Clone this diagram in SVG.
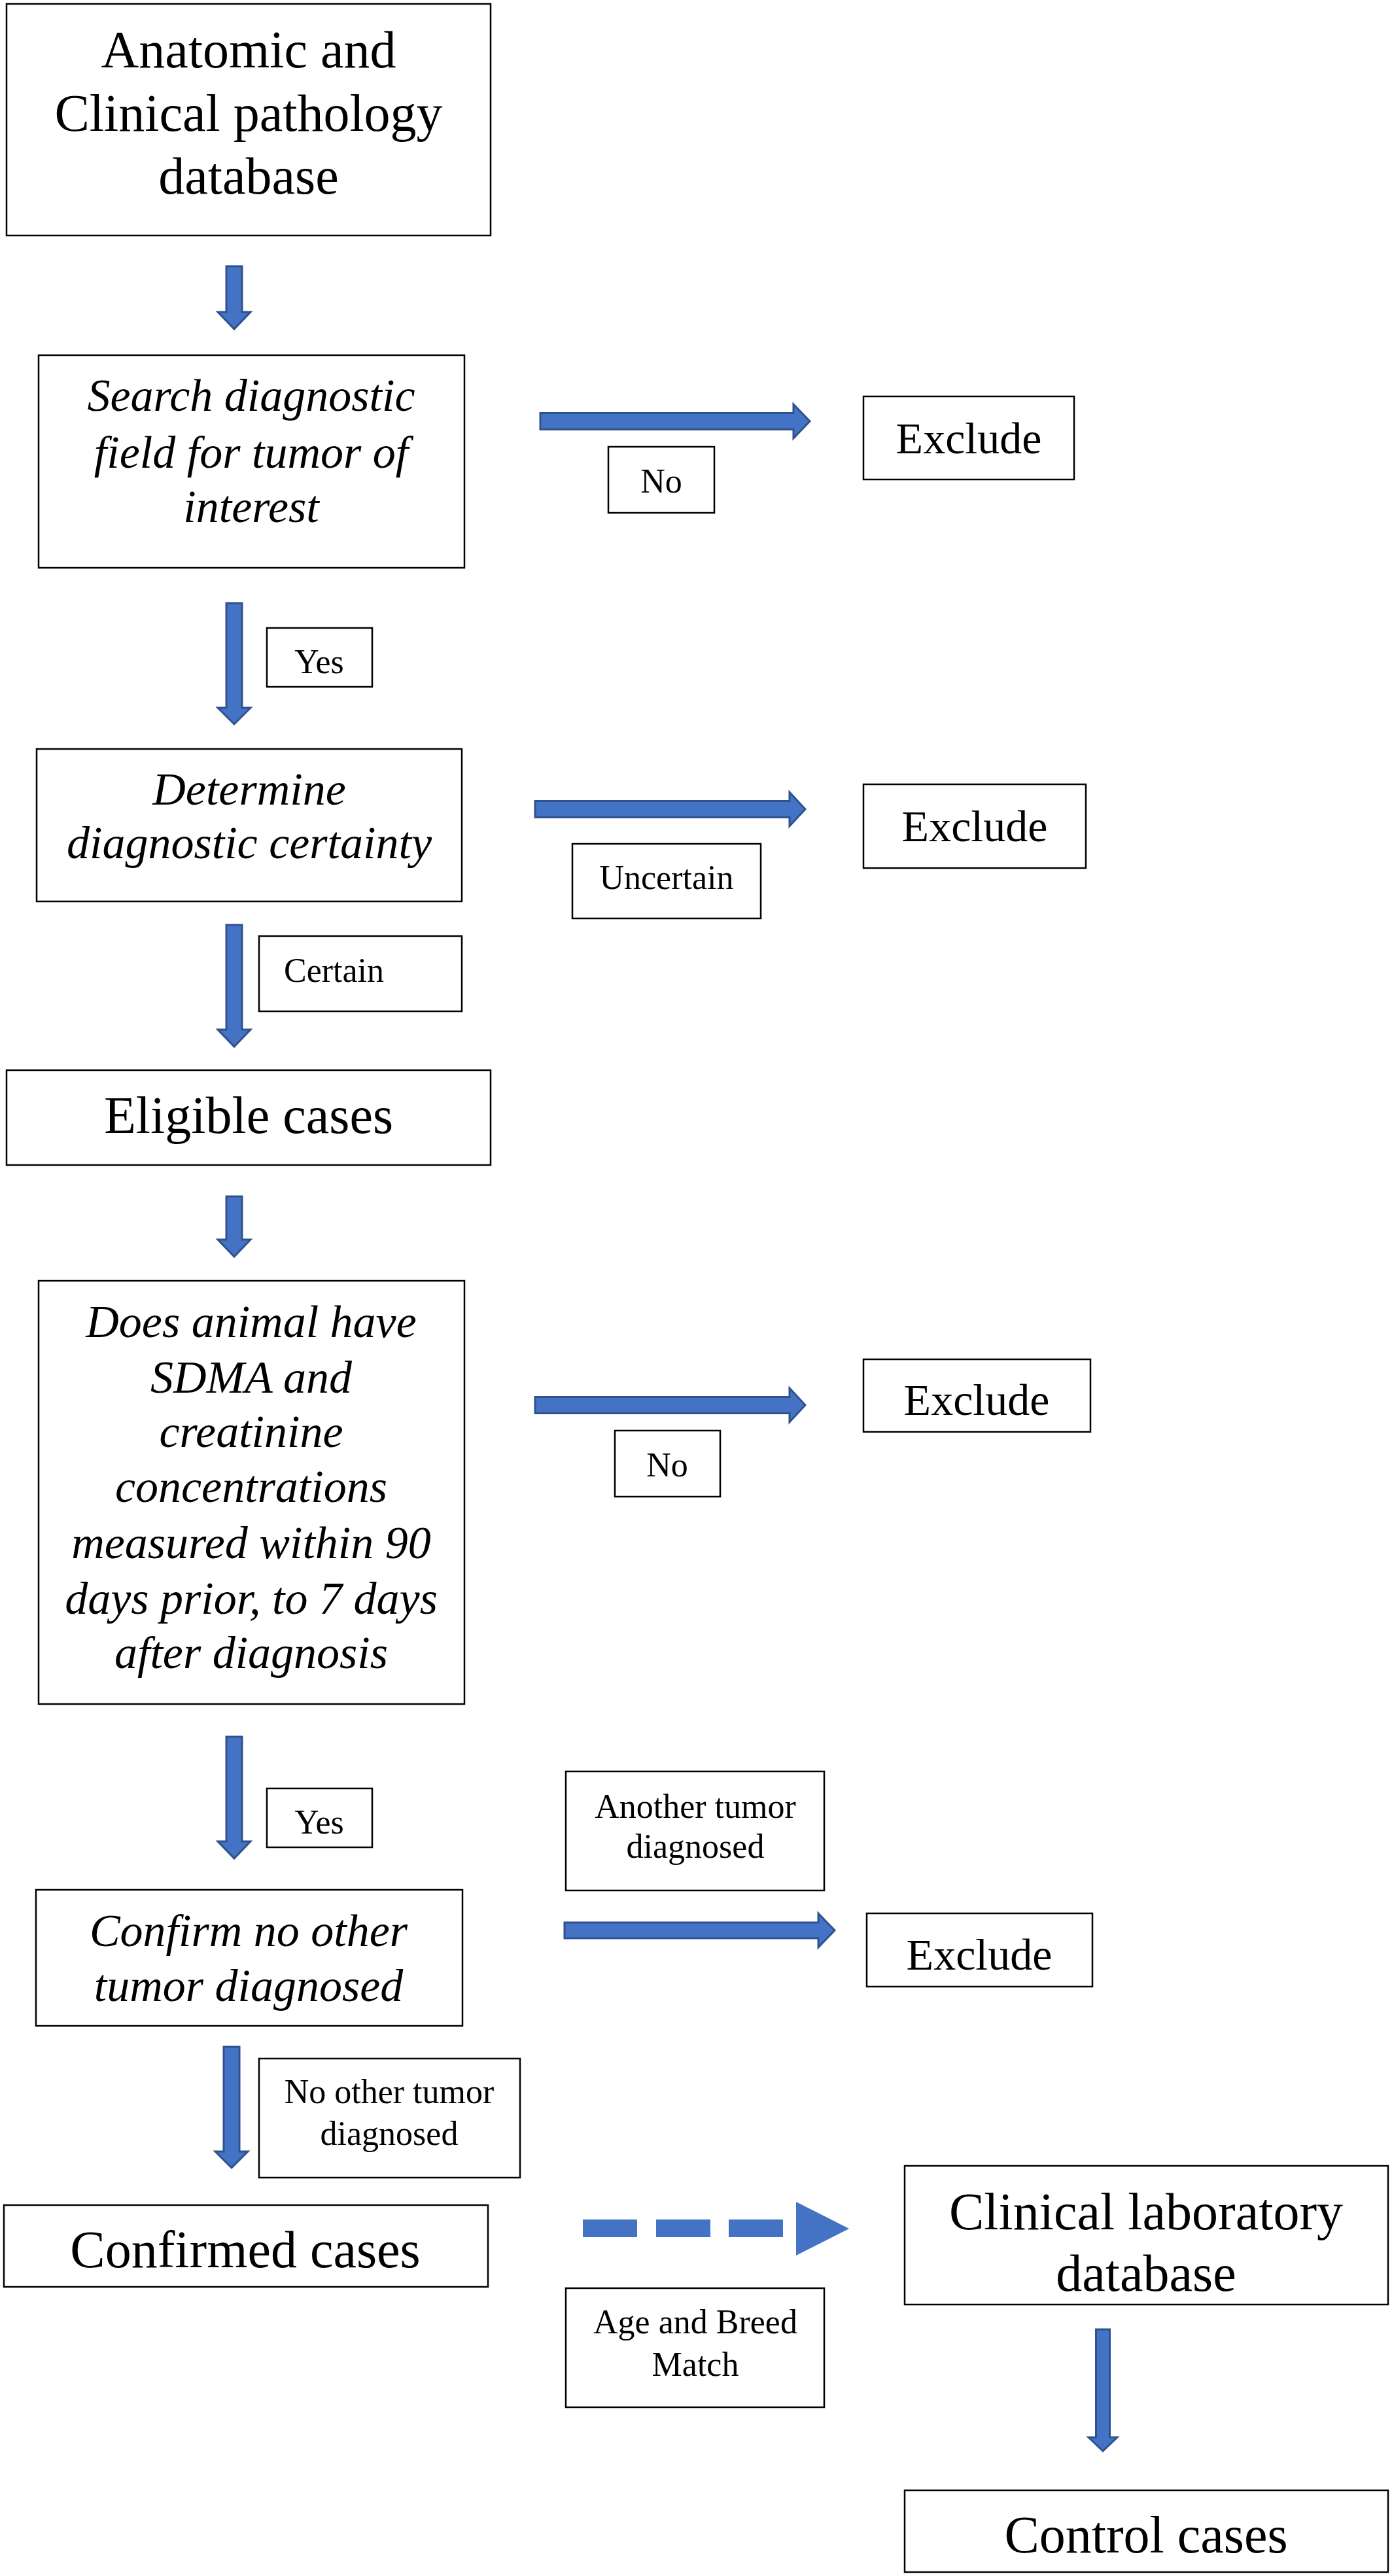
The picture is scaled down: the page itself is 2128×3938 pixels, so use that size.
<svg xmlns="http://www.w3.org/2000/svg" width="2128" height="3938" viewBox="0 0 2128 3938">
<style>
.box{fill:#fff;stroke:#000;stroke-width:2.5}
.t{font-family:"Liberation Serif","Times New Roman",serif;fill:#000;text-anchor:middle}
.big{font-size:80px}
.it{font-size:70px;font-style:italic}
.ex{font-size:68px}
.lb{font-size:52px}
.arr{fill:#4472C4;stroke:#2F528F;stroke-width:3;stroke-linejoin:miter}
.dash{fill:#4472C4}
</style>
<rect width="2128" height="3938" fill="#fff"/>
<g id="connectors">
<path class="arr" d="M346,407 H370 V477 H383 L358,503 L333,477 H346 Z"/>
<path class="arr" d="M346,922 H370 V1082 H383 L358,1107 L333,1082 H346 Z"/>
<path class="arr" d="M346,1414 H370 V1574 H383 L358,1600 L333,1574 H346 Z"/>
<path class="arr" d="M346,1829 H370 V1895 H383 L358,1921 L333,1895 H346 Z"/>
<path class="arr" d="M346,2655 H370 V2815 H383 L358,2841 L333,2815 H346 Z"/>
<path class="arr" d="M342,3129 H366 V3289 H379 L354,3314 L329,3289 H342 Z"/>
<path class="arr" d="M1675.5,3561 H1696.5 V3726 H1708 L1686,3747 L1664,3726 H1675.5 Z"/>
<path class="arr" d="M826,631.5 H1213 V618 L1238,644 L1213,670 V656.5 H826 Z"/>
<path class="arr" d="M818,1224.5 H1207 V1211 L1231,1237 L1207,1263 V1249.5 H818 Z"/>
<path class="arr" d="M818,2135.5 H1207 V2122 L1231,2148 L1207,2174 V2160.5 H818 Z"/>
<path class="arr" d="M863,2939 H1251 V2925 L1276,2951 L1251,2977 V2963 H863 Z"/>
<g id="dashed-arrow">
<rect class="dash" x="891" y="3393" width="83" height="27"/>
<rect class="dash" x="1003" y="3393" width="83" height="27"/>
<rect class="dash" x="1114" y="3393" width="83" height="27"/>
<path class="dash" d="M1217,3366 L1298,3407 L1217,3448 Z"/>
</g>
</g>
<g id="anatomic">
<rect class="box" x="10" y="6" width="740" height="354"/>
<text class="t big" x="380" y="103">Anatomic and</text>
<text class="t big" x="380" y="200">Clinical pathology</text>
<text class="t big" x="380" y="296">database</text>
</g>
<g id="search">
<rect class="box" x="59" y="543" width="651" height="325"/>
<text class="t it" x="384" y="628">Search diagnostic</text>
<text class="t it" x="384" y="715">field for tumor of</text>
<text class="t it" x="384" y="798">interest</text>
</g>
<g id="label-no1">
<rect class="box" x="930" y="683" width="162" height="101"/>
<text class="t lb" x="1011" y="753">No</text>
</g>
<g id="exclude1">
<rect class="box" x="1320" y="606" width="322" height="127"/>
<text class="t ex" x="1481" y="693">Exclude</text>
</g>
<g id="label-yes1">
<rect class="box" x="408" y="960" width="161" height="90"/>
<text class="t lb" x="488" y="1029">Yes</text>
</g>
<g id="certainty">
<rect class="box" x="56" y="1145" width="650" height="233"/>
<text class="t it" x="381" y="1230">Determine</text>
<text class="t it" x="381" y="1312">diagnostic certainty</text>
</g>
<g id="label-uncertain">
<rect class="box" x="875" y="1290" width="288" height="114"/>
<text class="t lb" x="1019" y="1359">Uncertain</text>
</g>
<g id="exclude2">
<rect class="box" x="1320" y="1199" width="340" height="128"/>
<text class="t ex" x="1490" y="1286">Exclude</text>
</g>
<g id="label-certain">
<rect class="box" x="396" y="1431" width="310" height="115"/>
<text class="t lb" x="434" y="1501" text-anchor="start" style="text-anchor:start">Certain</text>
</g>
<g id="eligible">
<rect class="box" x="10" y="1636" width="740" height="145"/>
<text class="t big" x="380" y="1732">Eligible cases</text>
</g>
<g id="sdma">
<rect class="box" x="59" y="1958" width="651" height="647"/>
<text class="t it" x="384" y="2044">Does animal have</text>
<text class="t it" x="384" y="2129">SDMA and</text>
<text class="t it" x="384" y="2212">creatinine</text>
<text class="t it" x="384" y="2296">concentrations</text>
<text class="t it" x="384" y="2382">measured within 90</text>
<text class="t it" x="384" y="2467">days prior, to 7 days</text>
<text class="t it" x="384" y="2550">after diagnosis</text>
</g>
<g id="exclude3">
<rect class="box" x="1320" y="2078" width="347" height="111"/>
<text class="t ex" x="1493" y="2163">Exclude</text>
</g>
<g id="label-no2">
<rect class="box" x="940" y="2187" width="161" height="101"/>
<text class="t lb" x="1020" y="2257">No</text>
</g>
<g id="label-yes2">
<rect class="box" x="408" y="2734" width="161" height="90"/>
<text class="t lb" x="488" y="2803">Yes</text>
</g>
<g id="label-another">
<rect class="box" x="865" y="2708" width="395" height="182"/>
<text class="t lb" x="1063" y="2779">Another tumor</text>
<text class="t lb" x="1063" y="2840">diagnosed</text>
</g>
<g id="confirm">
<rect class="box" x="55" y="2889" width="652" height="208"/>
<text class="t it" x="380" y="2975">Confirm no other</text>
<text class="t it" x="380" y="3059">tumor diagnosed</text>
</g>
<g id="exclude4">
<rect class="box" x="1325" y="2925" width="345" height="112"/>
<text class="t ex" x="1497" y="3011">Exclude</text>
</g>
<g id="label-noother">
<rect class="box" x="396" y="3147" width="399" height="182"/>
<text class="t lb" x="595" y="3215">No other tumor</text>
<text class="t lb" x="595" y="3279">diagnosed</text>
</g>
<g id="confirmed">
<rect class="box" x="6" y="3371" width="740" height="125"/>
<text class="t big" x="375" y="3466">Confirmed cases</text>
</g>
<g id="label-agebreed">
<rect class="box" x="865" y="3498" width="395" height="182"/>
<text class="t lb" x="1063" y="3567">Age and Breed</text>
<text class="t lb" x="1063" y="3632">Match</text>
</g>
<g id="clinlab">
<rect class="box" x="1383" y="3311" width="739" height="212"/>
<text class="t big" x="1752" y="3408">Clinical laboratory</text>
<text class="t big" x="1752" y="3502">database</text>
</g>
<g id="control">
<rect class="box" x="1383" y="3807" width="739" height="125"/>
<text class="t big" x="1752" y="3902">Control cases</text>
</g>
</svg>
